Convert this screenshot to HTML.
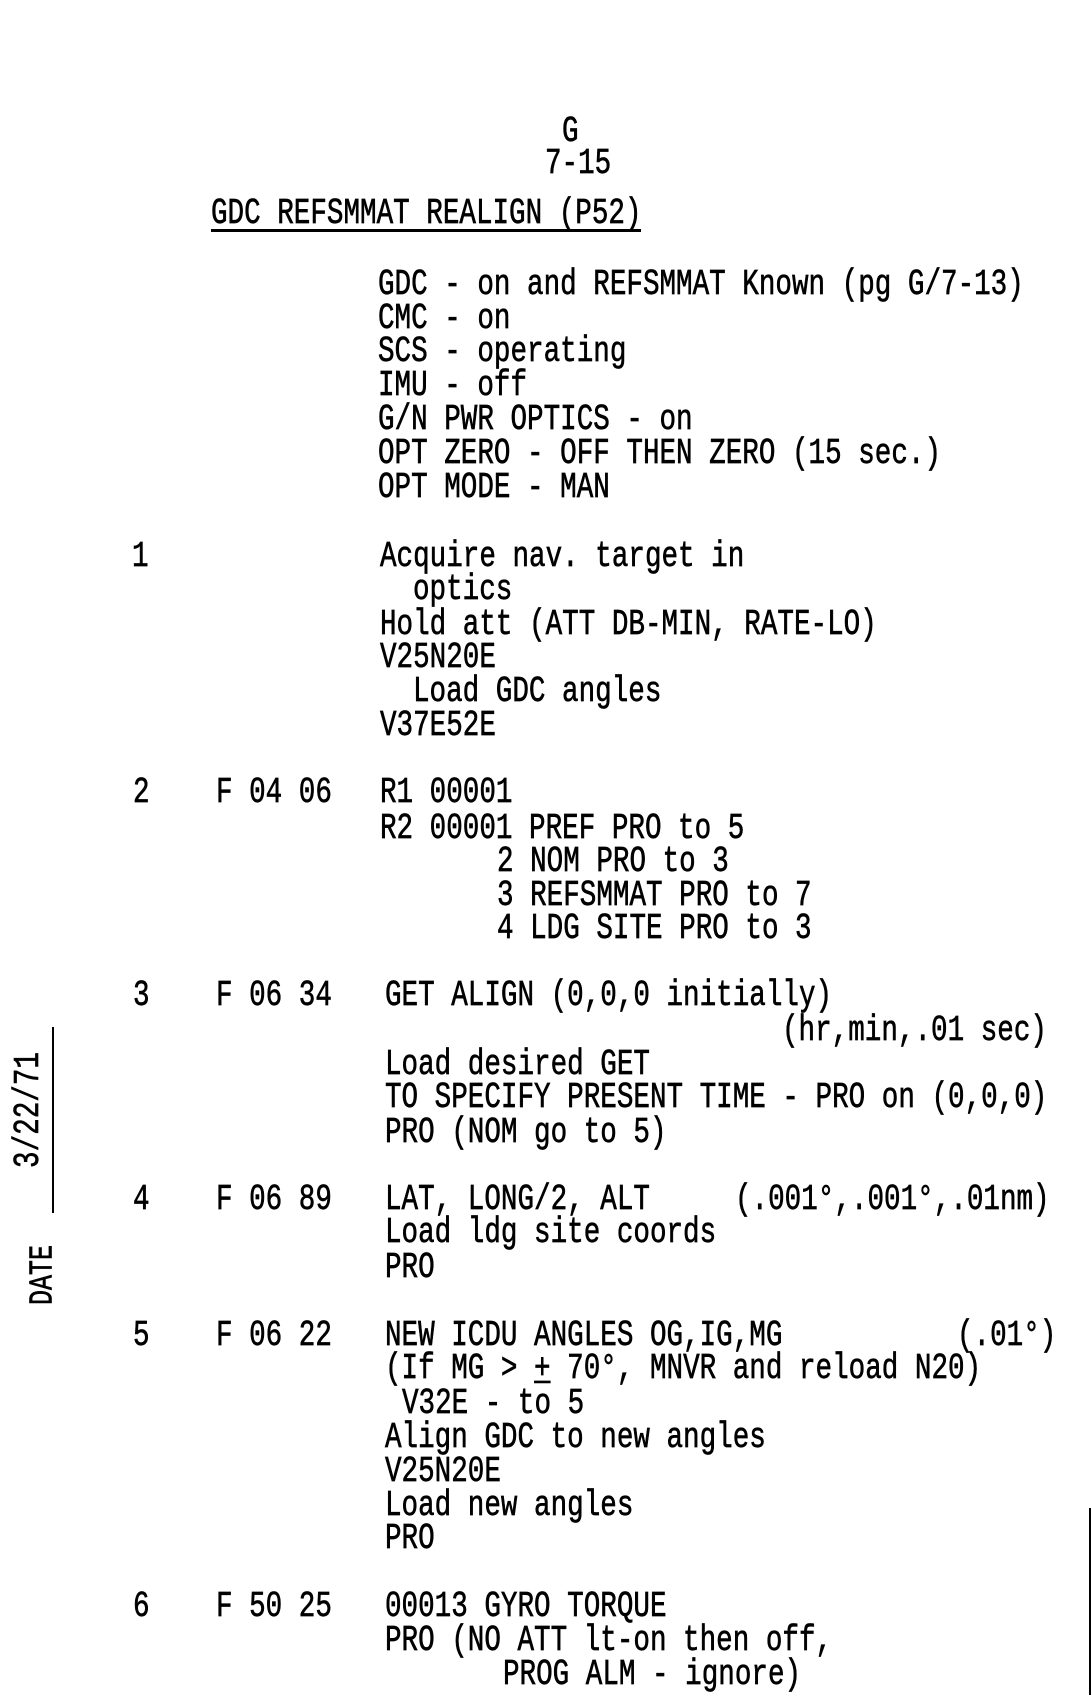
<!DOCTYPE html>
<html><head><meta charset="utf-8"><style>
html,body{margin:0;padding:0;background:#fff;}
body{width:1092px;height:1695px;position:relative;overflow:hidden;}
.c{position:absolute;left:0;top:3px;width:1056px;height:1695px;overflow:hidden;}
.t{position:absolute;font-family:"Liberation Mono","DejaVu Sans Mono",monospace;font-size:27.6px;line-height:1;white-space:pre;color:#000;transform:scaleY(1.32);transform-origin:0 50%;-webkit-text-stroke:0.5px #000;}
</style></head><body>
<div class="c">
<div class="t" style="left:562px;top:116px">G</div>
<div class="t" style="left:545px;top:148px">7-15</div>
<div class="t" style="left:211px;top:198px">GDC REFSMMAT REALIGN (P52)</div>
<div style="position:absolute;left:211px;top:226px;width:430px;height:3px;background:#000"></div>

<div class="t" style="left:378px;top:269px">GDC - on and REFSMMAT Known (pg G/7-13)</div>
<div class="t" style="left:378px;top:303px">CMC - on</div>
<div class="t" style="left:378px;top:336px">SCS - operating</div>
<div class="t" style="left:378px;top:370px">IMU - off</div>
<div class="t" style="left:378px;top:404px">G/N PWR OPTICS - on</div>
<div class="t" style="left:378px;top:438px">OPT ZERO - OFF THEN ZERO (15 sec.)</div>
<div class="t" style="left:378px;top:472px">OPT MODE - MAN</div>

<div class="t" style="left:132px;top:541px">1</div>
<div class="t" style="left:380px;top:541px">Acquire nav. target in</div>
<div class="t" style="left:413px;top:574px">optics</div>
<div class="t" style="left:380px;top:609px">Hold att (ATT DB-MIN, RATE-LO)</div>
<div class="t" style="left:380px;top:642px">V25N20E</div>
<div class="t" style="left:413px;top:676px">Load GDC angles</div>
<div class="t" style="left:380px;top:710px">V37E52E</div>

<div class="t" style="left:133px;top:777px">2</div>
<div class="t" style="left:216px;top:777px">F 04 06</div>
<div class="t" style="left:380px;top:777px">R1 00001</div>
<div class="t" style="left:380px;top:813px">R2 00001 PREF PRO to 5</div>
<div class="t" style="left:497px;top:846px">2 NOM PRO to 3</div>
<div class="t" style="left:497px;top:880px">3 REFSMMAT PRO to 7</div>
<div class="t" style="left:497px;top:913px">4 LDG SITE PRO to 3</div>

<div class="t" style="left:133px;top:980px">3</div>
<div class="t" style="left:216px;top:980px">F 06 34</div>
<div class="t" style="left:385px;top:980px">GET ALIGN (0,0,0 initially)</div>
<div class="t" style="left:782px;top:1015px">(hr,min,.01 sec)</div>
<div class="t" style="left:385px;top:1049px">Load desired GET</div>
<div class="t" style="left:385px;top:1082px">TO SPECIFY PRESENT TIME - PRO on (0,0,0)</div>
<div class="t" style="left:385px;top:1117px">PRO (NOM go to 5)</div>

<div class="t" style="left:133px;top:1184px">4</div>
<div class="t" style="left:216px;top:1184px">F 06 89</div>
<div class="t" style="left:385px;top:1184px">LAT, LONG/2, ALT</div>
<div class="t" style="left:735px;top:1184px">(.001°,.001°,.01nm)</div>
<div class="t" style="left:385px;top:1217px">Load ldg site coords</div>
<div class="t" style="left:385px;top:1252px">PRO</div>

<div class="t" style="left:133px;top:1320px">5</div>
<div class="t" style="left:216px;top:1320px">F 06 22</div>
<div class="t" style="left:385px;top:1320px">NEW ICDU ANGLES OG,IG,MG</div>
<div class="t" style="left:957px;top:1320px">(.01°)</div>
<div class="t" style="left:385px;top:1353px">(If MG &gt; <u>+</u> 70°, MNVR and reload N20)</div>
<div class="t" style="left:402px;top:1388px">V32E - to 5</div>
<div class="t" style="left:385px;top:1422px">Align GDC to new angles</div>
<div class="t" style="left:385px;top:1456px">V25N20E</div>
<div class="t" style="left:385px;top:1490px">Load new angles</div>
<div class="t" style="left:385px;top:1523px">PRO</div>

<div class="t" style="left:133px;top:1591px">6</div>
<div class="t" style="left:216px;top:1591px">F 50 25</div>
<div class="t" style="left:385px;top:1591px">00013 GYRO TORQUE</div>
<div class="t" style="left:385px;top:1625px">PRO (NO ATT lt-on then off,</div>
<div class="t" style="left:503px;top:1659px">PROG ALM - ignore)</div>
</div>

<div style="position:absolute;left:52px;top:1027px;width:2px;height:186px;background:#000"></div>
<div class="t" style="left:30px;top:1110px;transform:translate(-50%,-50%) rotate(-90deg) scaleY(1.32);transform-origin:50% 50%;">3/22/71</div>
<div class="t" style="left:43px;top:1275px;transform:translate(-50%,-50%) rotate(-90deg) scaleY(1.32);transform-origin:50% 50%;font-size:25px">DATE</div>
<div style="position:absolute;left:1089px;top:1508px;width:2px;height:187px;background:#000"></div>
</body></html>
